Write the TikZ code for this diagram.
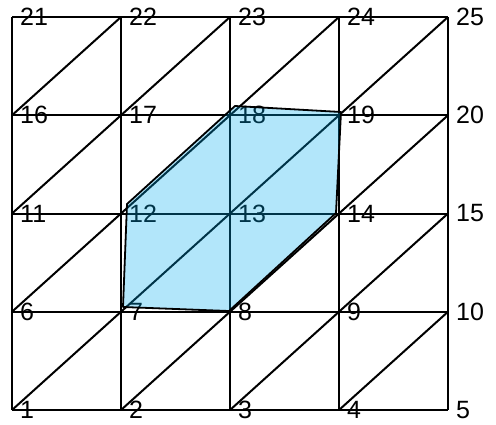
\documentclass[tikz,border=0pt]{standalone}
\usepackage{fontspec}
\setmainfont{Liberation Sans}
\usetikzlibrary{positioning,calc}

\begin{document}
\begin{tikzpicture}[x=1pt,y=-1pt,
  meshline/.style={line width=2pt},
  numlabel/.style={anchor=west,inner sep=0pt,xshift=8pt,font=\fontsize{25}{25}\selectfont}]
  \useasboundingbox (0,0) rectangle (496,424);
  % mesh points, numbered row by row from the bottom
  \foreach \r in {0,...,4} {
    \foreach \c in {0,...,4} {
      \pgfmathtruncatemacro{\k}{5*\r+\c+1}
      \coordinate (n\k) at ({12+109*\c},{410-98.25*\r});
    }
  }
  % rows and columns
  \foreach \k in {1,6,11,16,21} {
    \pgfmathtruncatemacro{\e}{\k+4}
    \draw[meshline] (n\k) -- (n\e);
  }
  \foreach \k in {1,...,5} {
    \pgfmathtruncatemacro{\e}{\k+20}
    \draw[meshline] (n\k) -- (n\e);
  }
  % diagonals
  \foreach \r in {0,...,3} {
    \foreach \c in {0,...,3} {
      \pgfmathtruncatemacro{\k}{5*\r+\c+1}
      \pgfmathtruncatemacro{\e}{\k+6}
      \draw[meshline] (n\k) -- (n\e);
    }
  }
  % numbers
  \foreach \k in {1,...,25} {
    \node[numlabel] (l\k) at (n\k) {\k};
  }
  % deformed patch
  \coordinate (d7) at (123,307);
  \coordinate (d8) at (229,311);
  \coordinate (d14) at (336,213);
  \coordinate (d19) at (341,112);
  \coordinate (d18) at (235,106);
  \coordinate (d12) at (127,204);
  \fill[cyan,fill opacity=0.3] (d7) -- (d8) -- (d14) -- (d19) -- (d18) -- (d12) -- cycle;
  \draw[line width=1.8pt,line join=round] (d7) -- (d8) -- (d14) -- (d19) -- (d18) -- (d12) -- cycle;
\end{tikzpicture}
\end{document}
